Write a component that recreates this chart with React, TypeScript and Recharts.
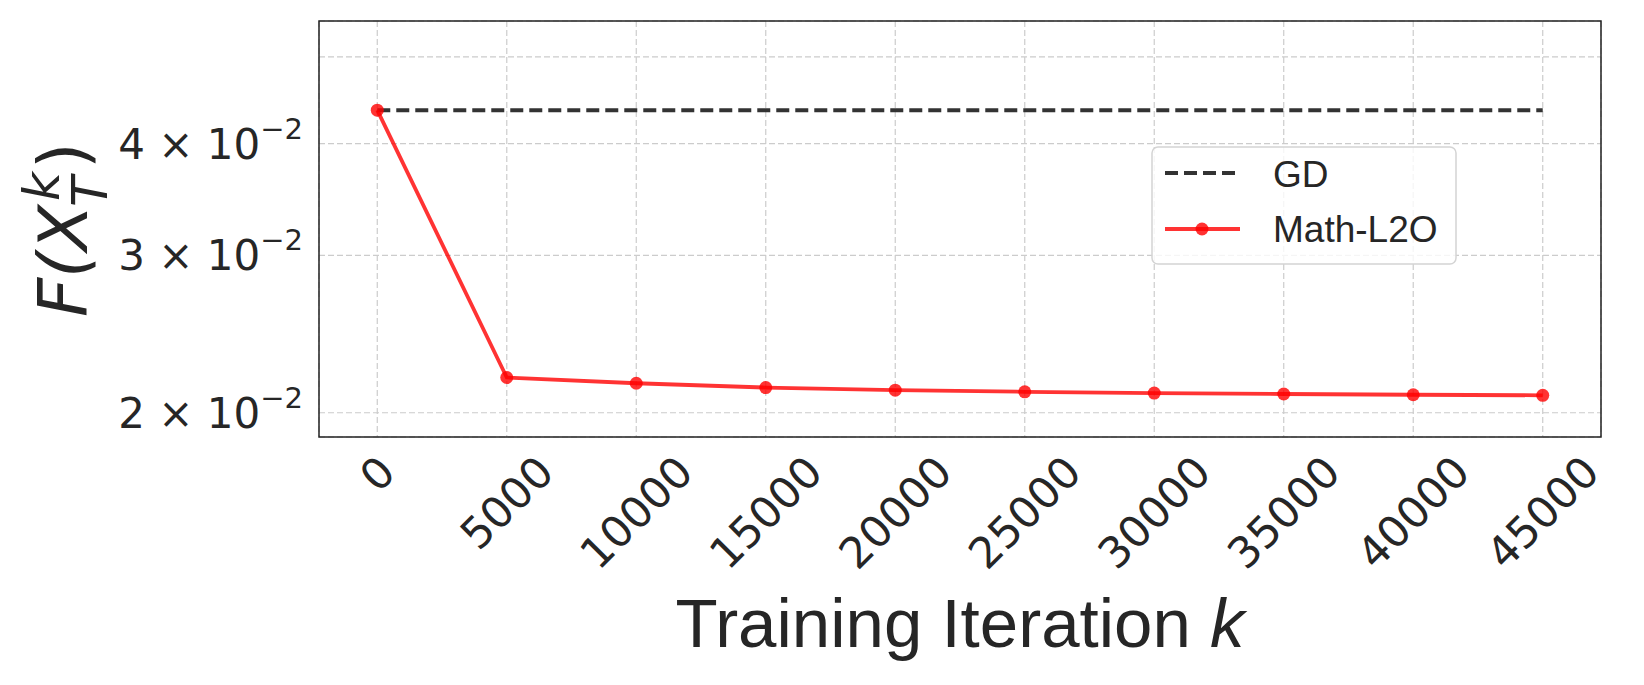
import React from 'react';
import { LineChart, Line, XAxis, YAxis, CartesianGrid, Legend, ReferenceArea } from 'recharts';

const iterations = [0, 5000, 10000, 15000, 20000, 25000, 30000, 35000, 40000, 45000];
const gdValues = [0.0436, 0.0436, 0.0436, 0.0436, 0.0436, 0.0436, 0.0436, 0.0436, 0.0436, 0.0436];
const mathL2OValues = [0.0436, 0.0219, 0.02158, 0.02134, 0.0212, 0.02111, 0.02104, 0.02099, 0.02095, 0.02092];

const xTicks = [0, 5000, 10000, 15000, 20000, 25000, 30000, 35000, 40000, 45000];
const yTicks = [0.02, 0.03, 0.04, 0.05];
const yTickMantissa = ['2', '3', '4', ''];

const X_DOMAIN = [-2250, 47250];
const Y_DOMAIN = [0.01879, 0.05485];

const TEXT = '#262626';
const MATH_FONT = '"DejaVu Sans", sans-serif';
const SANS_FONT = '"Liberation Sans", Arial, sans-serif';

const data = iterations.map((it, i) => ({ iter: it, gd: gdValues[i], l2o: mathL2OValues[i] }));

const XTick = (props: any) => {
    const { x, y, payload } = props;
    const label = String(payload.value);
    const fs = 43;
    const len = label.length * 0.636 * fs;
    const half = (len + 0.73 * fs) / (2 * Math.SQRT2);
    return (
        <text
            transform={`translate(${x},${y + 16 + half}) rotate(-45)`}
            textAnchor="middle"
            dominantBaseline="central"
            fontFamily={MATH_FONT}
            fontSize={fs}
            fill={TEXT}
        >
            {label}
        </text>
    );
};

const YTick = (props: any) => {
    const { x, y, payload } = props;
    const m = yTickMantissa[yTicks.indexOf(payload.value)];
    if (!m) return null;
    return (
        <text x={x - 16} y={y + 15} textAnchor="end" fontFamily={MATH_FONT} fontSize={42} fill={TEXT}>
            {m}{' \u00d7 10'}
            <tspan dy={-20} fontSize={29}>{'\u22122'}</tspan>
        </text>
    );
};

const XLabel = (props: any) => {
    const { viewBox } = props;
    const cx = viewBox.x + viewBox.width / 2;
    return (
        <text x={cx} y={viewBox.y + 210} textAnchor="middle" fontFamily={SANS_FONT} fontSize={69} fill={TEXT}>
            Training Iteration <tspan fontStyle="italic">k</tspan>
        </text>
    );
};

const YLabel = (props: any) => {
    const { viewBox } = props;
    const cy = viewBox.y + viewBox.height / 2;
    return (
        <g transform={`translate(87,${cy}) rotate(-90)`} fontFamily={MATH_FONT} fill={TEXT} fontStyle="italic">
            <text x={-88} y={0} fontSize={68}>F(X</text>
            <text x={28} y={-28} fontSize={50}>k</text>
            <text x={22} y={20} fontSize={50}>T</text>
            <text x={60} y={0} fontSize={68} fontStyle="normal">)</text>
        </g>
    );
};

const renderLegend = () => (
    <svg width={306} height={119} style={{ display: 'block' }}>
        <rect x={1} y={1} width={304} height={117} rx={6} fill="rgba(255,255,255,0.8)" stroke="#d4d4d4" strokeWidth={1.5} />
        <line x1={14} y1={27} x2={89} y2={27} stroke="#333333" strokeWidth={4} strokeDasharray="13 6" />
        <text x={122} y={41} fontFamily={SANS_FONT} fontSize={37} fill={TEXT}>GD</text>
        <line x1={14} y1={83} x2={89} y2={83} stroke="#ff0000" strokeOpacity={0.8} strokeWidth={3.8} />
        <circle cx={51} cy={83} r={6.5} fill="#ff0000" fillOpacity={0.8} />
        <text x={122} y={96} fontFamily={SANS_FONT} fontSize={37} fill={TEXT}>Math-L2O</text>
    </svg>
);

export default function App() {
    return (
        <div style={{ width: 1644, height: 685, background: '#ffffff' }}>
            <style>{'body{margin:0}'}</style>
            <LineChart width={1644} height={685} data={data} margin={{ top: 21, right: 43, bottom: 0, left: 0 }}>
                <CartesianGrid stroke="#cccccc" strokeWidth={1.2} strokeDasharray="6 3" />
                <XAxis
                    type="number"
                    dataKey="iter"
                    domain={X_DOMAIN}
                    ticks={xTicks}
                    interval={0}
                    allowDataOverflow
                    height={248}
                    axisLine={false}
                    tickLine={false}
                    tickSize={0}
                    tickMargin={0}
                    tick={<XTick />}
                    label={<XLabel />}
                />
                <YAxis
                    type="number"
                    scale="log"
                    domain={Y_DOMAIN}
                    ticks={yTicks}
                    interval={0}
                    allowDataOverflow
                    width={319}
                    axisLine={false}
                    tickLine={false}
                    tickSize={0}
                    tickMargin={0}
                    tick={<YTick />}
                    label={<YLabel />}
                />
                <ReferenceArea
                    x1={X_DOMAIN[0]}
                    x2={X_DOMAIN[1]}
                    y1={Y_DOMAIN[0]}
                    y2={Y_DOMAIN[1]}
                    fill="none"
                    stroke="#222222"
                    strokeWidth={1.5}
                    ifOverflow="visible"
                />
                <Legend
                    layout="horizontal"
                    verticalAlign="middle"
                    align="center"
                    content={renderLegend}
                    wrapperStyle={{ left: 1151, top: 146, width: 306, height: 119 }}
                />
                <Line
                    dataKey="gd"
                    name="GD"
                    type="linear"
                    stroke="#333333"
                    strokeWidth={4}
                    strokeDasharray="13 6"
                    dot={false}
                    isAnimationActive={false}
                />
                <Line
                    dataKey="l2o"
                    name="Math-L2O"
                    type="linear"
                    stroke="#ff0000"
                    strokeOpacity={0.8}
                    strokeWidth={3.8}
                    dot={{ r: 6.5, fill: '#ff0000', fillOpacity: 0.8, stroke: 'none' }}
                    isAnimationActive={false}
                />
            </LineChart>
        </div>
    );
}
